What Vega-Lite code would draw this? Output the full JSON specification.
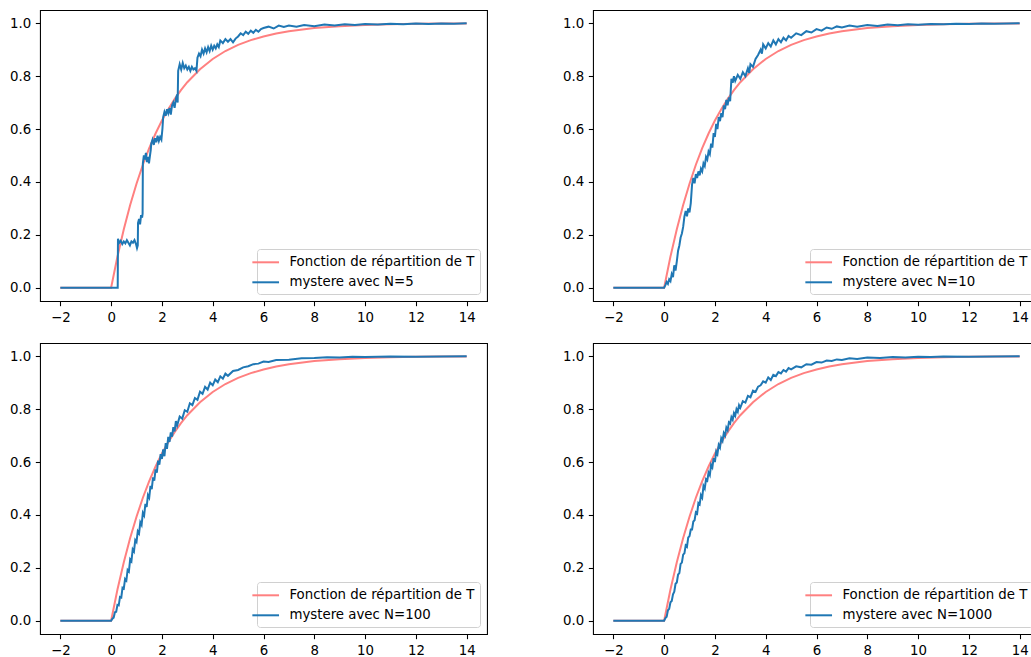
{
  "$schema": "https://vega.github.io/schema/vega-lite/v6.json",
  "background": "white",
  "autosize": {"type": "none"},
  "padding": {"left": 40, "top": 10, "right": 991, "bottom": 647},
  "config": {
    "font": "DejaVu Sans",
    "view": {"stroke": "#000000", "strokeWidth": 1.07},
    "axis": {"domain": false, "grid": false, "labelFont": "DejaVu Sans", "labelFontSize": 13.33, "labelColor": "#000000", "tickColor": "#000000", "tickSize": 4.67, "tickWidth": 1.07, "labelPadding": 4.67, "labelFlush": false, "labelOverlap": false}
  },
  "datasets": {
    "cdf": [
      {"x": -2, "y": 0}, {"x": 0, "y": 0}, {"x": 0.25, "y": 0.118}, {"x": 0.5, "y": 0.221}, {"x": 0.75, "y": 0.313}, {"x": 1, "y": 0.393}, {"x": 1.25, "y": 0.465}, {"x": 1.5, "y": 0.528}, {"x": 1.75, "y": 0.583}, {"x": 2, "y": 0.632}, {"x": 2.25, "y": 0.675}, {"x": 2.5, "y": 0.713}, {"x": 2.75, "y": 0.747}, {"x": 3, "y": 0.777}, {"x": 3.5, "y": 0.826}, {"x": 4, "y": 0.865}, {"x": 4.5, "y": 0.895}, {"x": 5, "y": 0.918}, {"x": 5.5, "y": 0.936}, {"x": 6, "y": 0.95}, {"x": 6.5, "y": 0.961}, {"x": 7, "y": 0.97}, {"x": 8, "y": 0.982}, {"x": 9, "y": 0.989}, {"x": 10, "y": 0.993}, {"x": 11, "y": 0.996}, {"x": 12, "y": 0.998}, {"x": 13, "y": 0.999}, {"x": 14, "y": 0.999}
    ],
    "mystere": [
      {"N": 5, "x": -2, "y": 0}, {"N": 5, "x": 0.26, "y": 0}, {"N": 5, "x": 0.27, "y": 0.185}, {"N": 5, "x": 0.32, "y": 0.17}, {"N": 5, "x": 0.38, "y": 0.178}, {"N": 5, "x": 0.44, "y": 0.165}, {"N": 5, "x": 0.5, "y": 0.175}, {"N": 5, "x": 0.56, "y": 0.168}, {"N": 5, "x": 0.62, "y": 0.18}, {"N": 5, "x": 0.68, "y": 0.17}, {"N": 5, "x": 0.74, "y": 0.16}, {"N": 5, "x": 0.8, "y": 0.175}, {"N": 5, "x": 0.86, "y": 0.17}, {"N": 5, "x": 0.92, "y": 0.18}, {"N": 5, "x": 0.98, "y": 0.165}, {"N": 5, "x": 1.02, "y": 0.15}, {"N": 5, "x": 1.05, "y": 0.16}, {"N": 5, "x": 1.06, "y": 0.245}, {"N": 5, "x": 1.1, "y": 0.26}, {"N": 5, "x": 1.14, "y": 0.24}, {"N": 5, "x": 1.18, "y": 0.275}, {"N": 5, "x": 1.22, "y": 0.265}, {"N": 5, "x": 1.24, "y": 0.28}, {"N": 5, "x": 1.25, "y": 0.47}, {"N": 5, "x": 1.29, "y": 0.5}, {"N": 5, "x": 1.33, "y": 0.485}, {"N": 5, "x": 1.37, "y": 0.51}, {"N": 5, "x": 1.41, "y": 0.475}, {"N": 5, "x": 1.45, "y": 0.495}, {"N": 5, "x": 1.49, "y": 0.47}, {"N": 5, "x": 1.53, "y": 0.5}, {"N": 5, "x": 1.56, "y": 0.52}, {"N": 5, "x": 1.58, "y": 0.545}, {"N": 5, "x": 1.63, "y": 0.56}, {"N": 5, "x": 1.68, "y": 0.54}, {"N": 5, "x": 1.73, "y": 0.565}, {"N": 5, "x": 1.78, "y": 0.55}, {"N": 5, "x": 1.83, "y": 0.575}, {"N": 5, "x": 1.88, "y": 0.555}, {"N": 5, "x": 1.93, "y": 0.57}, {"N": 5, "x": 1.98, "y": 0.56}, {"N": 5, "x": 2.02, "y": 0.6}, {"N": 5, "x": 2.05, "y": 0.645}, {"N": 5, "x": 2.1, "y": 0.665}, {"N": 5, "x": 2.15, "y": 0.65}, {"N": 5, "x": 2.2, "y": 0.675}, {"N": 5, "x": 2.25, "y": 0.66}, {"N": 5, "x": 2.3, "y": 0.68}, {"N": 5, "x": 2.35, "y": 0.655}, {"N": 5, "x": 2.4, "y": 0.69}, {"N": 5, "x": 2.45, "y": 0.7}, {"N": 5, "x": 2.5, "y": 0.68}, {"N": 5, "x": 2.55, "y": 0.715}, {"N": 5, "x": 2.6, "y": 0.73}, {"N": 5, "x": 2.62, "y": 0.7}, {"N": 5, "x": 2.64, "y": 0.82}, {"N": 5, "x": 2.7, "y": 0.845}, {"N": 5, "x": 2.76, "y": 0.825}, {"N": 5, "x": 2.82, "y": 0.85}, {"N": 5, "x": 2.88, "y": 0.83}, {"N": 5, "x": 2.94, "y": 0.84}, {"N": 5, "x": 3.0, "y": 0.825}, {"N": 5, "x": 3.06, "y": 0.835}, {"N": 5, "x": 3.12, "y": 0.82}, {"N": 5, "x": 3.18, "y": 0.835}, {"N": 5, "x": 3.24, "y": 0.825}, {"N": 5, "x": 3.3, "y": 0.83}, {"N": 5, "x": 3.36, "y": 0.82}, {"N": 5, "x": 3.4, "y": 0.87}, {"N": 5, "x": 3.46, "y": 0.885}, {"N": 5, "x": 3.52, "y": 0.875}, {"N": 5, "x": 3.58, "y": 0.9}, {"N": 5, "x": 3.64, "y": 0.885}, {"N": 5, "x": 3.7, "y": 0.905}, {"N": 5, "x": 3.76, "y": 0.89}, {"N": 5, "x": 3.82, "y": 0.91}, {"N": 5, "x": 3.88, "y": 0.895}, {"N": 5, "x": 3.94, "y": 0.915}, {"N": 5, "x": 4.0, "y": 0.9}, {"N": 5, "x": 4.06, "y": 0.915}, {"N": 5, "x": 4.12, "y": 0.905}, {"N": 5, "x": 4.18, "y": 0.92}, {"N": 5, "x": 4.24, "y": 0.91}, {"N": 5, "x": 4.3, "y": 0.935}, {"N": 5, "x": 4.4, "y": 0.925}, {"N": 5, "x": 4.5, "y": 0.94}, {"N": 5, "x": 4.6, "y": 0.93}, {"N": 5, "x": 4.7, "y": 0.94}, {"N": 5, "x": 4.8, "y": 0.928}, {"N": 5, "x": 4.9, "y": 0.942}, {"N": 5, "x": 5.0, "y": 0.95}, {"N": 5, "x": 5.1, "y": 0.962}, {"N": 5, "x": 5.2, "y": 0.955}, {"N": 5, "x": 5.3, "y": 0.968}, {"N": 5, "x": 5.4, "y": 0.96}, {"N": 5, "x": 5.5, "y": 0.972}, {"N": 5, "x": 5.6, "y": 0.964}, {"N": 5, "x": 5.7, "y": 0.975}, {"N": 5, "x": 5.8, "y": 0.968}, {"N": 5, "x": 5.9, "y": 0.978}, {"N": 5, "x": 6.0, "y": 0.982}, {"N": 5, "x": 6.2, "y": 0.987}, {"N": 5, "x": 6.4, "y": 0.98}, {"N": 5, "x": 6.6, "y": 0.991}, {"N": 5, "x": 6.8, "y": 0.986}, {"N": 5, "x": 7.0, "y": 0.991}, {"N": 5, "x": 7.3, "y": 0.987}, {"N": 5, "x": 7.6, "y": 0.993}, {"N": 5, "x": 8.0, "y": 0.989}, {"N": 5, "x": 8.4, "y": 0.995}, {"N": 5, "x": 8.8, "y": 0.991}, {"N": 5, "x": 9.2, "y": 0.996}, {"N": 5, "x": 9.6, "y": 0.993}, {"N": 5, "x": 10.0, "y": 0.997}, {"N": 5, "x": 10.5, "y": 0.995}, {"N": 5, "x": 11.0, "y": 0.998}, {"N": 5, "x": 11.5, "y": 0.996}, {"N": 5, "x": 12.0, "y": 0.999}, {"N": 5, "x": 12.5, "y": 0.997}, {"N": 5, "x": 13.0, "y": 0.999}, {"N": 5, "x": 13.5, "y": 0.998}, {"N": 5, "x": 14.0, "y": 1.0},

      {"N": 10, "x": -2, "y": 0}, {"N": 10, "x": 0.0, "y": 0}, {"N": 10, "x": 0.05, "y": 0.01}, {"N": 10, "x": 0.1, "y": 0.022}, {"N": 10, "x": 0.15, "y": 0.015}, {"N": 10, "x": 0.2, "y": 0.032}, {"N": 10, "x": 0.25, "y": 0.025}, {"N": 10, "x": 0.3, "y": 0.052}, {"N": 10, "x": 0.35, "y": 0.04}, {"N": 10, "x": 0.4, "y": 0.085}, {"N": 10, "x": 0.45, "y": 0.065}, {"N": 10, "x": 0.5, "y": 0.1}, {"N": 10, "x": 0.55, "y": 0.14}, {"N": 10, "x": 0.6, "y": 0.16}, {"N": 10, "x": 0.65, "y": 0.19}, {"N": 10, "x": 0.7, "y": 0.205}, {"N": 10, "x": 0.75, "y": 0.23}, {"N": 10, "x": 0.8, "y": 0.27}, {"N": 10, "x": 0.85, "y": 0.29}, {"N": 10, "x": 0.9, "y": 0.27}, {"N": 10, "x": 0.95, "y": 0.3}, {"N": 10, "x": 1.0, "y": 0.285}, {"N": 10, "x": 1.05, "y": 0.32}, {"N": 10, "x": 1.1, "y": 0.39}, {"N": 10, "x": 1.15, "y": 0.415}, {"N": 10, "x": 1.2, "y": 0.395}, {"N": 10, "x": 1.25, "y": 0.43}, {"N": 10, "x": 1.3, "y": 0.415}, {"N": 10, "x": 1.35, "y": 0.44}, {"N": 10, "x": 1.4, "y": 0.425}, {"N": 10, "x": 1.45, "y": 0.45}, {"N": 10, "x": 1.5, "y": 0.44}, {"N": 10, "x": 1.55, "y": 0.47}, {"N": 10, "x": 1.6, "y": 0.46}, {"N": 10, "x": 1.65, "y": 0.495}, {"N": 10, "x": 1.7, "y": 0.485}, {"N": 10, "x": 1.75, "y": 0.515}, {"N": 10, "x": 1.8, "y": 0.505}, {"N": 10, "x": 1.85, "y": 0.545}, {"N": 10, "x": 1.9, "y": 0.53}, {"N": 10, "x": 1.95, "y": 0.585}, {"N": 10, "x": 2.0, "y": 0.57}, {"N": 10, "x": 2.05, "y": 0.62}, {"N": 10, "x": 2.1, "y": 0.6}, {"N": 10, "x": 2.15, "y": 0.645}, {"N": 10, "x": 2.2, "y": 0.63}, {"N": 10, "x": 2.25, "y": 0.66}, {"N": 10, "x": 2.3, "y": 0.645}, {"N": 10, "x": 2.35, "y": 0.69}, {"N": 10, "x": 2.4, "y": 0.675}, {"N": 10, "x": 2.45, "y": 0.71}, {"N": 10, "x": 2.5, "y": 0.69}, {"N": 10, "x": 2.55, "y": 0.72}, {"N": 10, "x": 2.6, "y": 0.705}, {"N": 10, "x": 2.65, "y": 0.79}, {"N": 10, "x": 2.7, "y": 0.775}, {"N": 10, "x": 2.75, "y": 0.8}, {"N": 10, "x": 2.8, "y": 0.782}, {"N": 10, "x": 2.9, "y": 0.805}, {"N": 10, "x": 3.0, "y": 0.79}, {"N": 10, "x": 3.1, "y": 0.815}, {"N": 10, "x": 3.2, "y": 0.8}, {"N": 10, "x": 3.3, "y": 0.83}, {"N": 10, "x": 3.35, "y": 0.812}, {"N": 10, "x": 3.4, "y": 0.845}, {"N": 10, "x": 3.5, "y": 0.835}, {"N": 10, "x": 3.6, "y": 0.865}, {"N": 10, "x": 3.7, "y": 0.88}, {"N": 10, "x": 3.8, "y": 0.9}, {"N": 10, "x": 3.85, "y": 0.885}, {"N": 10, "x": 3.9, "y": 0.92}, {"N": 10, "x": 4.0, "y": 0.905}, {"N": 10, "x": 4.1, "y": 0.925}, {"N": 10, "x": 4.2, "y": 0.912}, {"N": 10, "x": 4.3, "y": 0.935}, {"N": 10, "x": 4.4, "y": 0.92}, {"N": 10, "x": 4.5, "y": 0.94}, {"N": 10, "x": 4.6, "y": 0.928}, {"N": 10, "x": 4.7, "y": 0.945}, {"N": 10, "x": 4.8, "y": 0.935}, {"N": 10, "x": 4.9, "y": 0.952}, {"N": 10, "x": 5.0, "y": 0.945}, {"N": 10, "x": 5.2, "y": 0.962}, {"N": 10, "x": 5.4, "y": 0.955}, {"N": 10, "x": 5.6, "y": 0.97}, {"N": 10, "x": 5.8, "y": 0.965}, {"N": 10, "x": 6.0, "y": 0.978}, {"N": 10, "x": 6.2, "y": 0.972}, {"N": 10, "x": 6.4, "y": 0.984}, {"N": 10, "x": 6.6, "y": 0.979}, {"N": 10, "x": 6.8, "y": 0.988}, {"N": 10, "x": 7.0, "y": 0.984}, {"N": 10, "x": 7.3, "y": 0.991}, {"N": 10, "x": 7.6, "y": 0.987}, {"N": 10, "x": 8.0, "y": 0.993}, {"N": 10, "x": 8.4, "y": 0.99}, {"N": 10, "x": 8.8, "y": 0.995}, {"N": 10, "x": 9.2, "y": 0.992}, {"N": 10, "x": 9.6, "y": 0.996}, {"N": 10, "x": 10.0, "y": 0.994}, {"N": 10, "x": 10.5, "y": 0.997}, {"N": 10, "x": 11.0, "y": 0.996}, {"N": 10, "x": 11.5, "y": 0.998}, {"N": 10, "x": 12.0, "y": 0.997}, {"N": 10, "x": 12.5, "y": 0.999}, {"N": 10, "x": 13.0, "y": 0.998}, {"N": 10, "x": 13.5, "y": 0.999}, {"N": 10, "x": 14.0, "y": 1.0},

      {"N": 100, "x": -2, "y": 0}, {"N": 100, "x": 0.0, "y": 0}, {"N": 100, "x": 0.05, "y": 0.008}, {"N": 100, "x": 0.1, "y": 0.012}, {"N": 100, "x": 0.15, "y": 0.032}, {"N": 100, "x": 0.2, "y": 0.034}, {"N": 100, "x": 0.25, "y": 0.06}, {"N": 100, "x": 0.3, "y": 0.058}, {"N": 100, "x": 0.35, "y": 0.09}, {"N": 100, "x": 0.4, "y": 0.088}, {"N": 100, "x": 0.45, "y": 0.125}, {"N": 100, "x": 0.5, "y": 0.122}, {"N": 100, "x": 0.55, "y": 0.158}, {"N": 100, "x": 0.6, "y": 0.152}, {"N": 100, "x": 0.65, "y": 0.192}, {"N": 100, "x": 0.7, "y": 0.186}, {"N": 100, "x": 0.75, "y": 0.232}, {"N": 100, "x": 0.8, "y": 0.225}, {"N": 100, "x": 0.85, "y": 0.27}, {"N": 100, "x": 0.9, "y": 0.262}, {"N": 100, "x": 0.95, "y": 0.305}, {"N": 100, "x": 1.0, "y": 0.298}, {"N": 100, "x": 1.05, "y": 0.338}, {"N": 100, "x": 1.1, "y": 0.33}, {"N": 100, "x": 1.15, "y": 0.372}, {"N": 100, "x": 1.2, "y": 0.362}, {"N": 100, "x": 1.25, "y": 0.408}, {"N": 100, "x": 1.3, "y": 0.398}, {"N": 100, "x": 1.35, "y": 0.442}, {"N": 100, "x": 1.4, "y": 0.43}, {"N": 100, "x": 1.45, "y": 0.475}, {"N": 100, "x": 1.5, "y": 0.465}, {"N": 100, "x": 1.55, "y": 0.51}, {"N": 100, "x": 1.6, "y": 0.498}, {"N": 100, "x": 1.65, "y": 0.542}, {"N": 100, "x": 1.7, "y": 0.53}, {"N": 100, "x": 1.75, "y": 0.572}, {"N": 100, "x": 1.8, "y": 0.56}, {"N": 100, "x": 1.85, "y": 0.605}, {"N": 100, "x": 1.9, "y": 0.59}, {"N": 100, "x": 1.95, "y": 0.63}, {"N": 100, "x": 2.0, "y": 0.612}, {"N": 100, "x": 2.05, "y": 0.648}, {"N": 100, "x": 2.1, "y": 0.622}, {"N": 100, "x": 2.15, "y": 0.672}, {"N": 100, "x": 2.2, "y": 0.65}, {"N": 100, "x": 2.25, "y": 0.695}, {"N": 100, "x": 2.3, "y": 0.676}, {"N": 100, "x": 2.35, "y": 0.712}, {"N": 100, "x": 2.4, "y": 0.696}, {"N": 100, "x": 2.45, "y": 0.732}, {"N": 100, "x": 2.5, "y": 0.716}, {"N": 100, "x": 2.55, "y": 0.755}, {"N": 100, "x": 2.6, "y": 0.738}, {"N": 100, "x": 2.7, "y": 0.772}, {"N": 100, "x": 2.8, "y": 0.764}, {"N": 100, "x": 2.9, "y": 0.796}, {"N": 100, "x": 3.0, "y": 0.79}, {"N": 100, "x": 3.1, "y": 0.822}, {"N": 100, "x": 3.2, "y": 0.815}, {"N": 100, "x": 3.3, "y": 0.842}, {"N": 100, "x": 3.4, "y": 0.835}, {"N": 100, "x": 3.5, "y": 0.866}, {"N": 100, "x": 3.6, "y": 0.858}, {"N": 100, "x": 3.7, "y": 0.884}, {"N": 100, "x": 3.8, "y": 0.874}, {"N": 100, "x": 3.9, "y": 0.9}, {"N": 100, "x": 4.0, "y": 0.89}, {"N": 100, "x": 4.1, "y": 0.912}, {"N": 100, "x": 4.2, "y": 0.902}, {"N": 100, "x": 4.3, "y": 0.924}, {"N": 100, "x": 4.4, "y": 0.915}, {"N": 100, "x": 4.5, "y": 0.934}, {"N": 100, "x": 4.6, "y": 0.926}, {"N": 100, "x": 4.8, "y": 0.944}, {"N": 100, "x": 5.0, "y": 0.948}, {"N": 100, "x": 5.2, "y": 0.958}, {"N": 100, "x": 5.4, "y": 0.962}, {"N": 100, "x": 5.6, "y": 0.97}, {"N": 100, "x": 5.8, "y": 0.972}, {"N": 100, "x": 6.0, "y": 0.98}, {"N": 100, "x": 6.2, "y": 0.978}, {"N": 100, "x": 6.5, "y": 0.986}, {"N": 100, "x": 7.0, "y": 0.987}, {"N": 100, "x": 7.5, "y": 0.992}, {"N": 100, "x": 8.0, "y": 0.993}, {"N": 100, "x": 8.5, "y": 0.996}, {"N": 100, "x": 9.0, "y": 0.995}, {"N": 100, "x": 9.5, "y": 0.998}, {"N": 100, "x": 10.0, "y": 0.997}, {"N": 100, "x": 11.0, "y": 0.999}, {"N": 100, "x": 12.0, "y": 0.998}, {"N": 100, "x": 13.0, "y": 0.999}, {"N": 100, "x": 14.0, "y": 1.0},

      {"N": 1000, "x": -2, "y": 0}, {"N": 1000, "x": 0.0, "y": 0}, {"N": 1000, "x": 0.05, "y": 0.01}, {"N": 1000, "x": 0.1, "y": 0.015}, {"N": 1000, "x": 0.15, "y": 0.04}, {"N": 1000, "x": 0.2, "y": 0.045}, {"N": 1000, "x": 0.25, "y": 0.07}, {"N": 1000, "x": 0.3, "y": 0.075}, {"N": 1000, "x": 0.35, "y": 0.1}, {"N": 1000, "x": 0.4, "y": 0.11}, {"N": 1000, "x": 0.45, "y": 0.14}, {"N": 1000, "x": 0.5, "y": 0.145}, {"N": 1000, "x": 0.55, "y": 0.175}, {"N": 1000, "x": 0.6, "y": 0.18}, {"N": 1000, "x": 0.65, "y": 0.215}, {"N": 1000, "x": 0.7, "y": 0.22}, {"N": 1000, "x": 0.75, "y": 0.25}, {"N": 1000, "x": 0.8, "y": 0.255}, {"N": 1000, "x": 0.85, "y": 0.285}, {"N": 1000, "x": 0.9, "y": 0.28}, {"N": 1000, "x": 0.95, "y": 0.315}, {"N": 1000, "x": 1.0, "y": 0.32}, {"N": 1000, "x": 1.05, "y": 0.345}, {"N": 1000, "x": 1.1, "y": 0.345}, {"N": 1000, "x": 1.15, "y": 0.375}, {"N": 1000, "x": 1.2, "y": 0.38}, {"N": 1000, "x": 1.25, "y": 0.41}, {"N": 1000, "x": 1.3, "y": 0.405}, {"N": 1000, "x": 1.35, "y": 0.445}, {"N": 1000, "x": 1.4, "y": 0.44}, {"N": 1000, "x": 1.45, "y": 0.475}, {"N": 1000, "x": 1.5, "y": 0.465}, {"N": 1000, "x": 1.55, "y": 0.51}, {"N": 1000, "x": 1.6, "y": 0.5}, {"N": 1000, "x": 1.65, "y": 0.535}, {"N": 1000, "x": 1.7, "y": 0.53}, {"N": 1000, "x": 1.75, "y": 0.56}, {"N": 1000, "x": 1.8, "y": 0.55}, {"N": 1000, "x": 1.85, "y": 0.59}, {"N": 1000, "x": 1.9, "y": 0.58}, {"N": 1000, "x": 1.95, "y": 0.615}, {"N": 1000, "x": 2.0, "y": 0.6}, {"N": 1000, "x": 2.05, "y": 0.64}, {"N": 1000, "x": 2.1, "y": 0.63}, {"N": 1000, "x": 2.15, "y": 0.665}, {"N": 1000, "x": 2.2, "y": 0.655}, {"N": 1000, "x": 2.25, "y": 0.69}, {"N": 1000, "x": 2.3, "y": 0.68}, {"N": 1000, "x": 2.35, "y": 0.71}, {"N": 1000, "x": 2.4, "y": 0.7}, {"N": 1000, "x": 2.45, "y": 0.73}, {"N": 1000, "x": 2.5, "y": 0.72}, {"N": 1000, "x": 2.55, "y": 0.75}, {"N": 1000, "x": 2.6, "y": 0.745}, {"N": 1000, "x": 2.65, "y": 0.77}, {"N": 1000, "x": 2.7, "y": 0.76}, {"N": 1000, "x": 2.75, "y": 0.785}, {"N": 1000, "x": 2.8, "y": 0.775}, {"N": 1000, "x": 2.85, "y": 0.8}, {"N": 1000, "x": 2.9, "y": 0.79}, {"N": 1000, "x": 2.95, "y": 0.815}, {"N": 1000, "x": 3.0, "y": 0.805}, {"N": 1000, "x": 3.1, "y": 0.83}, {"N": 1000, "x": 3.2, "y": 0.825}, {"N": 1000, "x": 3.3, "y": 0.85}, {"N": 1000, "x": 3.4, "y": 0.845}, {"N": 1000, "x": 3.5, "y": 0.87}, {"N": 1000, "x": 3.6, "y": 0.865}, {"N": 1000, "x": 3.7, "y": 0.885}, {"N": 1000, "x": 3.8, "y": 0.89}, {"N": 1000, "x": 3.9, "y": 0.905}, {"N": 1000, "x": 4.0, "y": 0.9}, {"N": 1000, "x": 4.1, "y": 0.92}, {"N": 1000, "x": 4.2, "y": 0.91}, {"N": 1000, "x": 4.3, "y": 0.93}, {"N": 1000, "x": 4.4, "y": 0.925}, {"N": 1000, "x": 4.5, "y": 0.94}, {"N": 1000, "x": 4.6, "y": 0.935}, {"N": 1000, "x": 4.7, "y": 0.948}, {"N": 1000, "x": 4.8, "y": 0.942}, {"N": 1000, "x": 4.9, "y": 0.955}, {"N": 1000, "x": 5.0, "y": 0.95}, {"N": 1000, "x": 5.2, "y": 0.962}, {"N": 1000, "x": 5.4, "y": 0.958}, {"N": 1000, "x": 5.6, "y": 0.97}, {"N": 1000, "x": 5.8, "y": 0.968}, {"N": 1000, "x": 6.0, "y": 0.978}, {"N": 1000, "x": 6.2, "y": 0.976}, {"N": 1000, "x": 6.4, "y": 0.984}, {"N": 1000, "x": 6.6, "y": 0.982}, {"N": 1000, "x": 6.8, "y": 0.988}, {"N": 1000, "x": 7.0, "y": 0.986}, {"N": 1000, "x": 7.3, "y": 0.992}, {"N": 1000, "x": 7.6, "y": 0.99}, {"N": 1000, "x": 8.0, "y": 0.995}, {"N": 1000, "x": 8.5, "y": 0.993}, {"N": 1000, "x": 9.0, "y": 0.997}, {"N": 1000, "x": 9.5, "y": 0.995}, {"N": 1000, "x": 10.0, "y": 0.998}, {"N": 1000, "x": 10.5, "y": 0.997}, {"N": 1000, "x": 11.0, "y": 0.999}, {"N": 1000, "x": 12.0, "y": 0.998}, {"N": 1000, "x": 13.0, "y": 0.999}, {"N": 1000, "x": 14.0, "y": 1.0}
    ]
  },
  "columns": 2,
  "spacing": {"row": 42, "column": 106},
  "bounds": "flush",
  "resolve": {"scale": {"color": "independent"}},
  "concat": [
    {
      "width": 447, "height": 291,
      "layer": [
        {"data": {"name": "cdf"}, "mark": {"type": "line", "strokeWidth": 2},
         "encoding": {
           "x": {"field": "x", "type": "quantitative", "scale": {"domain": [-2.8, 14.8], "nice": false, "zero": false}, "axis": {"title": null, "values": [-2, 0, 2, 4, 6, 8, 10, 12, 14], "format": "d"}},
           "y": {"field": "y", "type": "quantitative", "scale": {"domain": [-0.05, 1.05], "nice": false, "zero": false}, "axis": {"title": null, "values": [0, 0.2, 0.4, 0.6, 0.8, 1.0], "format": ".1f"}},
           "color": {"datum": "Fonction de répartition de T", "type": "nominal", "scale": {"domain": ["Fonction de répartition de T", "mystere avec N=5"], "range": ["#ff8080", "#1f77b4"]},
             "legend": {"title": null, "orient": "bottom-right", "offset": 7, "padding": 5.3, "fillColor": "rgba(255,255,255,0.8)", "strokeColor": "#d0d0d0", "cornerRadius": 3, "labelFont": "DejaVu Sans", "labelFontSize": 13.33, "labelColor": "#000000", "labelLimit": 400, "symbolType": "M-2,0H2", "symbolSize": 178, "symbolStrokeWidth": 2, "symbolOffset": -4.6, "labelOffset": 15.7, "rowPadding": 5}}
         }},
        {"data": {"name": "mystere"}, "transform": [{"filter": "datum.N == 5"}], "mark": {"type": "line", "strokeWidth": 2},
         "encoding": {
           "x": {"field": "x", "type": "quantitative"},
           "y": {"field": "y", "type": "quantitative"},
           "color": {"datum": "mystere avec N=5", "type": "nominal"}
         }}
      ]
    },
    {
      "width": 447, "height": 291,
      "layer": [
        {"data": {"name": "cdf"}, "mark": {"type": "line", "strokeWidth": 2},
         "encoding": {
           "x": {"field": "x", "type": "quantitative", "scale": {"domain": [-2.8, 14.8], "nice": false, "zero": false}, "axis": {"title": null, "values": [-2, 0, 2, 4, 6, 8, 10, 12, 14], "format": "d"}},
           "y": {"field": "y", "type": "quantitative", "scale": {"domain": [-0.05, 1.05], "nice": false, "zero": false}, "axis": {"title": null, "values": [0, 0.2, 0.4, 0.6, 0.8, 1.0], "format": ".1f"}},
           "color": {"datum": "Fonction de répartition de T", "type": "nominal", "scale": {"domain": ["Fonction de répartition de T", "mystere avec N=10"], "range": ["#ff8080", "#1f77b4"]},
             "legend": {"title": null, "orient": "bottom-right", "offset": 7, "padding": 5.3, "fillColor": "rgba(255,255,255,0.8)", "strokeColor": "#d0d0d0", "cornerRadius": 3, "labelFont": "DejaVu Sans", "labelFontSize": 13.33, "labelColor": "#000000", "labelLimit": 400, "symbolType": "M-2,0H2", "symbolSize": 178, "symbolStrokeWidth": 2, "symbolOffset": -4.6, "labelOffset": 15.7, "rowPadding": 5}}
         }},
        {"data": {"name": "mystere"}, "transform": [{"filter": "datum.N == 10"}], "mark": {"type": "line", "strokeWidth": 2},
         "encoding": {
           "x": {"field": "x", "type": "quantitative"},
           "y": {"field": "y", "type": "quantitative"},
           "color": {"datum": "mystere avec N=10", "type": "nominal"}
         }}
      ]
    },
    {
      "width": 447, "height": 291,
      "layer": [
        {"data": {"name": "cdf"}, "mark": {"type": "line", "strokeWidth": 2},
         "encoding": {
           "x": {"field": "x", "type": "quantitative", "scale": {"domain": [-2.8, 14.8], "nice": false, "zero": false}, "axis": {"title": null, "values": [-2, 0, 2, 4, 6, 8, 10, 12, 14], "format": "d"}},
           "y": {"field": "y", "type": "quantitative", "scale": {"domain": [-0.05, 1.05], "nice": false, "zero": false}, "axis": {"title": null, "values": [0, 0.2, 0.4, 0.6, 0.8, 1.0], "format": ".1f"}},
           "color": {"datum": "Fonction de répartition de T", "type": "nominal", "scale": {"domain": ["Fonction de répartition de T", "mystere avec N=100"], "range": ["#ff8080", "#1f77b4"]},
             "legend": {"title": null, "orient": "bottom-right", "offset": 7, "padding": 5.3, "fillColor": "rgba(255,255,255,0.8)", "strokeColor": "#d0d0d0", "cornerRadius": 3, "labelFont": "DejaVu Sans", "labelFontSize": 13.33, "labelColor": "#000000", "labelLimit": 400, "symbolType": "M-2,0H2", "symbolSize": 178, "symbolStrokeWidth": 2, "symbolOffset": -4.6, "labelOffset": 15.7, "rowPadding": 5}}
         }},
        {"data": {"name": "mystere"}, "transform": [{"filter": "datum.N == 100"}], "mark": {"type": "line", "strokeWidth": 2},
         "encoding": {
           "x": {"field": "x", "type": "quantitative"},
           "y": {"field": "y", "type": "quantitative"},
           "color": {"datum": "mystere avec N=100", "type": "nominal"}
         }}
      ]
    },
    {
      "width": 447, "height": 291,
      "layer": [
        {"data": {"name": "cdf"}, "mark": {"type": "line", "strokeWidth": 2},
         "encoding": {
           "x": {"field": "x", "type": "quantitative", "scale": {"domain": [-2.8, 14.8], "nice": false, "zero": false}, "axis": {"title": null, "values": [-2, 0, 2, 4, 6, 8, 10, 12, 14], "format": "d"}},
           "y": {"field": "y", "type": "quantitative", "scale": {"domain": [-0.05, 1.05], "nice": false, "zero": false}, "axis": {"title": null, "values": [0, 0.2, 0.4, 0.6, 0.8, 1.0], "format": ".1f"}},
           "color": {"datum": "Fonction de répartition de T", "type": "nominal", "scale": {"domain": ["Fonction de répartition de T", "mystere avec N=1000"], "range": ["#ff8080", "#1f77b4"]},
             "legend": {"title": null, "orient": "bottom-right", "offset": 7, "padding": 5.3, "fillColor": "rgba(255,255,255,0.8)", "strokeColor": "#d0d0d0", "cornerRadius": 3, "labelFont": "DejaVu Sans", "labelFontSize": 13.33, "labelColor": "#000000", "labelLimit": 400, "symbolType": "M-2,0H2", "symbolSize": 178, "symbolStrokeWidth": 2, "symbolOffset": -4.6, "labelOffset": 15.7, "rowPadding": 5}}
         }},
        {"data": {"name": "mystere"}, "transform": [{"filter": "datum.N == 1000"}], "mark": {"type": "line", "strokeWidth": 2},
         "encoding": {
           "x": {"field": "x", "type": "quantitative"},
           "y": {"field": "y", "type": "quantitative"},
           "color": {"datum": "mystere avec N=1000", "type": "nominal"}
         }}
      ]
    }
  ]
}
